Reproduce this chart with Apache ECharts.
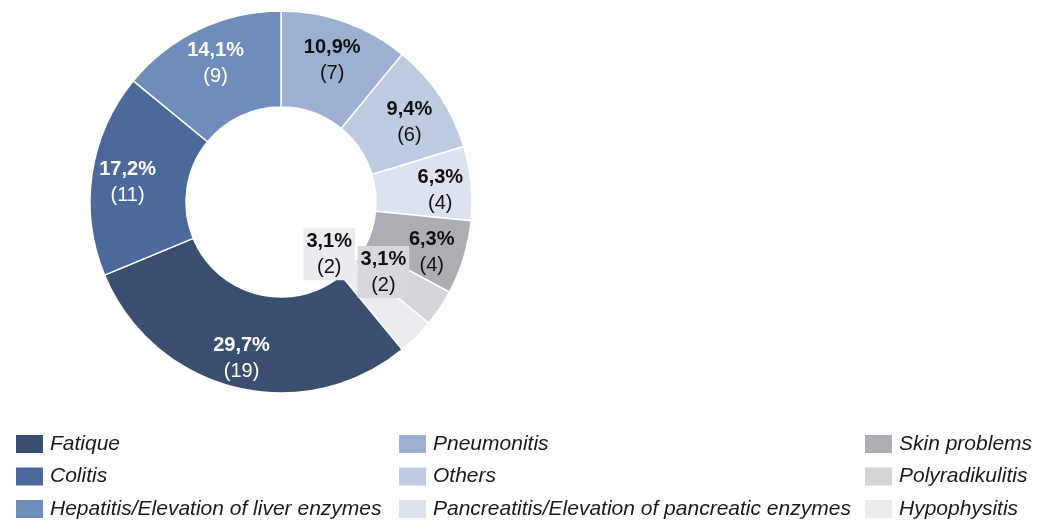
<!DOCTYPE html>
<html>
<head>
<meta charset="utf-8">
<script src="https://cdn.jsdelivr.net/npm/echarts@6/dist/echarts.min.js"></script>
<style>html,body{margin:0;padding:0;background:#fff}#c{width:1048px;height:520px}</style>
</head>
<body>
<div id="c"></div>
<script>
// Data (clockwise from 12 o'clock)
const categories = ['Pneumonitis', 'Others', 'Pancreatitis/Elevation of pancreatic enzymes', 'Skin problems', 'Polyradikulitis', 'Hypophysitis', 'Fatique', 'Colitis', 'Hepatitis/Elevation of liver enzymes'];
const counts = [7, 6, 4, 4, 2, 2, 19, 11, 9];
// Legend columns
const legendCol1 = ['Fatique', 'Colitis', 'Hepatitis/Elevation of liver enzymes'];
const legendCol2 = ['Pneumonitis', 'Others', 'Pancreatitis/Elevation of pancreatic enzymes'];
const legendCol3 = ['Skin problems', 'Polyradikulitis', 'Hypophysitis'];

// Styles
const colors = ['#9cb0d1', '#bfcbe1', '#dce3ef', '#aeadb3', '#d5d4d9', '#ebebf0', '#3a4f6f', '#4b6a9b', '#6f8dba'];
const labelColors = ['#111', '#111', '#111', '#111', '#111', '#111', '#fff', '#fff', '#fff'];
const labelBoxes = [null, null, null, null, '#d8d8dc', '#ebebef', null, null, null];
const labelOffsets = [[2, -4], [7, 2], [14, 3], [11, 8], [-19, -11], [-55, -51], [-4, 15], [-9, 2], [-3, -7]];

const total = counts.reduce((a, b) => a + b, 0);
const data = categories.map((name, i) => {
  const item = {
    name: name,
    value: counts[i],
    itemStyle: { color: colors[i] },
    label: {
      rich: {
        p: { fontSize: 20, fontWeight: 'bold', color: labelColors[i], fontFamily: 'Liberation Sans, Arial, sans-serif', lineHeight: 26 },
        c: { fontSize: 20, color: labelColors[i], fontFamily: 'Liberation Sans, Arial, sans-serif', lineHeight: 26 }
      }
    }
  };
  if (labelBoxes[i]) {
    item.label.backgroundColor = labelBoxes[i];
    item.label.padding = [0, 3, 0, 3];
  }
  return item;
});

const legendBase = {
  orient: 'vertical',
  itemWidth: 29,
  itemHeight: 20,
  itemGap: 10.5,
  icon: 'rect',
  top: 433,
  height: 90,
  padding: 0,
  selectedMode: false,
  textStyle: { fontSize: 21, lineHeight: 20, fontStyle: 'italic', color: '#1a1a1a', fontFamily: 'Liberation Sans, Arial, sans-serif', padding: [0, 0, 0, 1] }
};

const chart = echarts.init(document.getElementById('c'));
chart.setOption({
  animation: false,
  backgroundColor: '#fff',
  legend: [
    Object.assign({}, legendBase, { left: 14, data: legendCol1 }),
    Object.assign({}, legendBase, { left: 397, data: legendCol2 }),
    Object.assign({}, legendBase, { left: 863, data: legendCol3 })
  ],
  series: [{
    type: 'pie',
    center: [281, 202],
    radius: [95, 191],
    startAngle: 90,
    clockwise: true,
    avoidLabelOverlap: false,
    itemStyle: { borderColor: '#fff', borderWidth: 1.5 },
    emphasis: { disabled: true },
    label: {
      show: true,
      position: 'inside',
      formatter: (p) => '{p|' + (p.value / total * 100).toFixed(1).replace('.', ',') + '%}\n{c|(' + p.value + ')}'
    },
    labelLine: { show: false },
    labelLayout: (params) => ({ dx: labelOffsets[params.dataIndex][0], dy: labelOffsets[params.dataIndex][1], hideOverlap: false }),
    data: data
  }]
});
</script>
</body>
</html>
